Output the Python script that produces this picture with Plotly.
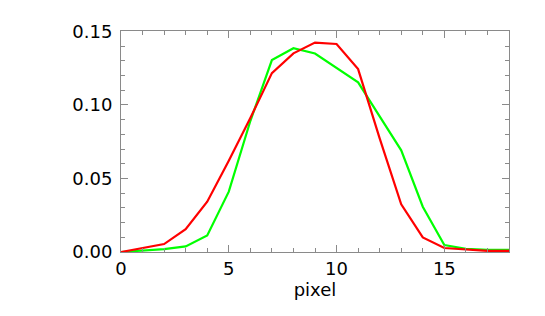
import plotly.graph_objects as go

pixel = list(range(19))
green_vals = [0.0, 0.001, 0.002, 0.0038, 0.0112, 0.041, 0.089, 0.1304, 0.1385, 0.1349,
              0.1254, 0.1153, 0.0922, 0.0691, 0.0308, 0.0047, 0.0022, 0.0015, 0.0015]
red_vals = [0.0, 0.0027, 0.0054, 0.0155, 0.0342, 0.062, 0.091, 0.1216, 0.135, 0.1423,
            0.1414, 0.1243, 0.0772, 0.0324, 0.0099, 0.0027, 0.0015, 0.0008, 0.0008]

x_ticks = [0, 5, 10, 15]
y_ticks = [0.0, 0.05, 0.10, 0.15]
y_ticklabels = ["0.00", "0.05", "0.10", "0.15"]

fig = go.Figure()
fig.add_trace(go.Scatter(x=pixel, y=green_vals, mode="lines",
                         line=dict(color="#00FF00", width=2.2), cliponaxis=False))
fig.add_trace(go.Scatter(x=pixel, y=red_vals, mode="lines",
                         line=dict(color="#FF0000", width=2.2), cliponaxis=False))

axis_color = "#8a8a8a"
# page body has an 8px default margin, so the figure is sized to fit the window
fig.update_layout(
    width=537, height=308,
    margin=dict(l=113, r=36, t=23, b=64),
    paper_bgcolor="white", plot_bgcolor="white",
    showlegend=False,
    font=dict(family="DejaVu Sans", size=18, color="black"),
    xaxis=dict(range=[0, 18], tickvals=x_ticks, ticks="inside", ticklen=7,
               tickcolor=axis_color, showline=True, linecolor=axis_color, linewidth=1,
               mirror="ticks", showgrid=False, zeroline=False, automargin=False,
               minor=dict(ticks="inside", dtick=1, ticklen=4, tickcolor=axis_color, showgrid=False),
               title=dict(text="pixel", standoff=2, font=dict(size=18)),
               tickfont=dict(size=18)),
    yaxis=dict(range=[0, 0.1502], tickvals=y_ticks, ticktext=y_ticklabels,
               ticks="inside", ticklen=7, tickcolor=axis_color,
               showline=True, linecolor=axis_color, linewidth=1,
               mirror="ticks", showgrid=False, zeroline=False, automargin=False,
               ticklabelstandoff=4,
               minor=dict(ticks="inside", dtick=0.01, ticklen=4, tickcolor=axis_color, showgrid=False),
               tickfont=dict(size=18)),
)

fig.write_html("out.html")
